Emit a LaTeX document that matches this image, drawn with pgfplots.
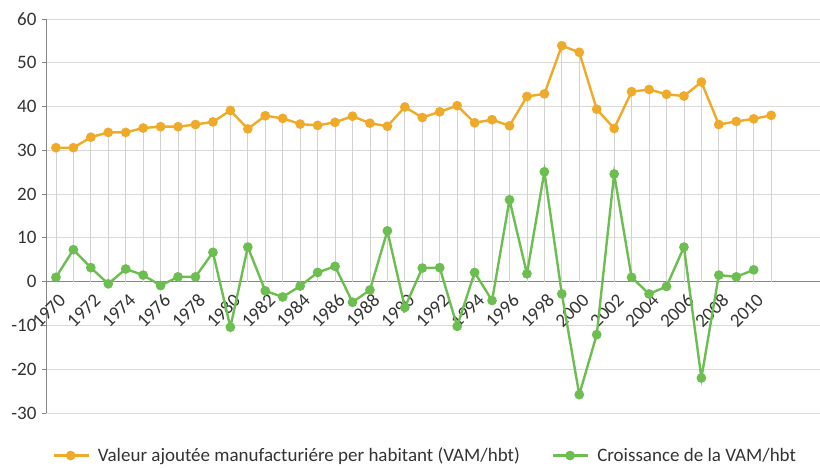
\documentclass[border=0pt]{standalone}
\usepackage{pgfplots}
\pgfplotsset{compat=1.18}
\usepackage{fontspec}
\setmainfont{Carlito}
\definecolor{vamorange}{RGB}{238,170,40}
\definecolor{vamgreen}{RGB}{108,190,80}
\definecolor{gridgray}{RGB}{217,217,217}
\definecolor{dropgray}{RGB}{210,210,210}
\definecolor{axgray}{RGB}{134,134,134}
\pgfplotstableread{
year vam
1970 30.6
1971 30.6
1972 33.0
1973 34.1
1974 34.1
1975 35.1
1976 35.4
1977 35.4
1978 35.9
1979 36.5
1980 39.1
1981 34.9
1982 37.9
1983 37.3
1984 36.0
1985 35.7
1986 36.4
1987 37.8
1988 36.2
1989 35.5
1990 39.9
1991 37.5
1992 38.8
1993 40.2
1994 36.3
1995 37.0
1996 35.6
1997 42.3
1998 42.9
1999 53.9
2000 52.4
2001 39.4
2002 35.0
2003 43.4
2004 43.9
2005 42.8
2006 42.4
2007 45.6
2008 35.9
2009 36.6
2010 37.2
2011 38.0
}\vamdata
\pgfplotstableread{
year growth
1970 1.0
1971 7.3
1972 3.2
1973 -0.5
1974 2.9
1975 1.5
1976 -0.9
1977 1.1
1978 1.1
1979 6.7
1980 -10.4
1981 7.9
1982 -2.1
1983 -3.5
1984 -1.0
1985 2.1
1986 3.5
1987 -4.7
1988 -1.9
1989 11.6
1990 -5.9
1991 3.1
1992 3.2
1993 -10.2
1994 2.1
1995 -4.3
1996 18.7
1997 1.8
1998 25.1
1999 -2.8
2000 -25.8
2001 -12.1
2002 24.6
2003 1.0
2004 -2.8
2005 -1.1
2006 7.9
2007 -22.0
2008 1.5
2009 1.1
2010 2.7
}\growthdata
\begin{document}
\begin{tikzpicture}[x=1pt,y=1pt]
\useasboundingbox (0,0) rectangle (820,468);
\begin{axis}[
  at={(46pt,55pt)}, anchor=south west,
  scale only axis, width=774pt, height=394pt,
  xmin=1969.43, xmax=2013.8, ymin=-30, ymax=60,
  axis x line=middle, axis y line=left,
  axis line style={axgray, line width=0.8pt, -},
  hide obscured y ticks=false,
  hide obscured x ticks=false,
  ytick={-30,-20,...,60},
  xtick={1970,1972,...,2010},
  xticklabels={1970,1972,1974,1976,1978,1980,1982,1984,1986,1988,1990,1992,1994,1996,1998,2000,2002,2004,2006,2008,2010},
  ymajorgrids, grid style={gridgray, line width=0.8pt},
  tick align=outside, major tick length=4pt,
  xtick style={draw=none},
  ytick style={axgray, line width=0.8pt},
  /pgf/number format/assume math mode=true,
  yticklabel style={font=\fontsize{19}{22}\selectfont, text=black!80, xshift=-2pt},
  xticklabel style={font=\fontsize{19}{22}\selectfont, text=black!80, xshift=9pt, yshift=-9pt, rotate=45, anchor=east},
  legend style={at={(0.49,-0.108)}, anchor=center, draw=none, fill=none,
    font=\fontsize{19}{22}\selectfont, text=black!80, legend columns=2,
    /tikz/every odd column/.append style={column sep=6pt},
    /tikz/every even column/.append style={column sep=30pt}},
  legend image code/.code={\draw[mark repeat=2, mark phase=2] plot coordinates {(0pt,0pt)(17pt,0pt)(35pt,0pt)};},
]
\addplot[ycomb, dropgray, line width=0.8pt, forget plot] table[x=year, y=vam] {\vamdata};
\addplot[vamorange, line width=2.4pt, mark=*, mark size=3.6pt, mark options={solid}] table[x=year, y=vam] {\vamdata};
\addlegendentry{Valeur ajoutée manufacturiére per habitant (VAM/hbt)}
\addplot[vamgreen, line width=2.4pt, mark=*, mark size=3.6pt, mark options={solid}] table[x=year, y=growth] {\growthdata};
\addlegendentry{Croissance de la VAM/hbt}
\end{axis}
\end{tikzpicture}
\end{document}
